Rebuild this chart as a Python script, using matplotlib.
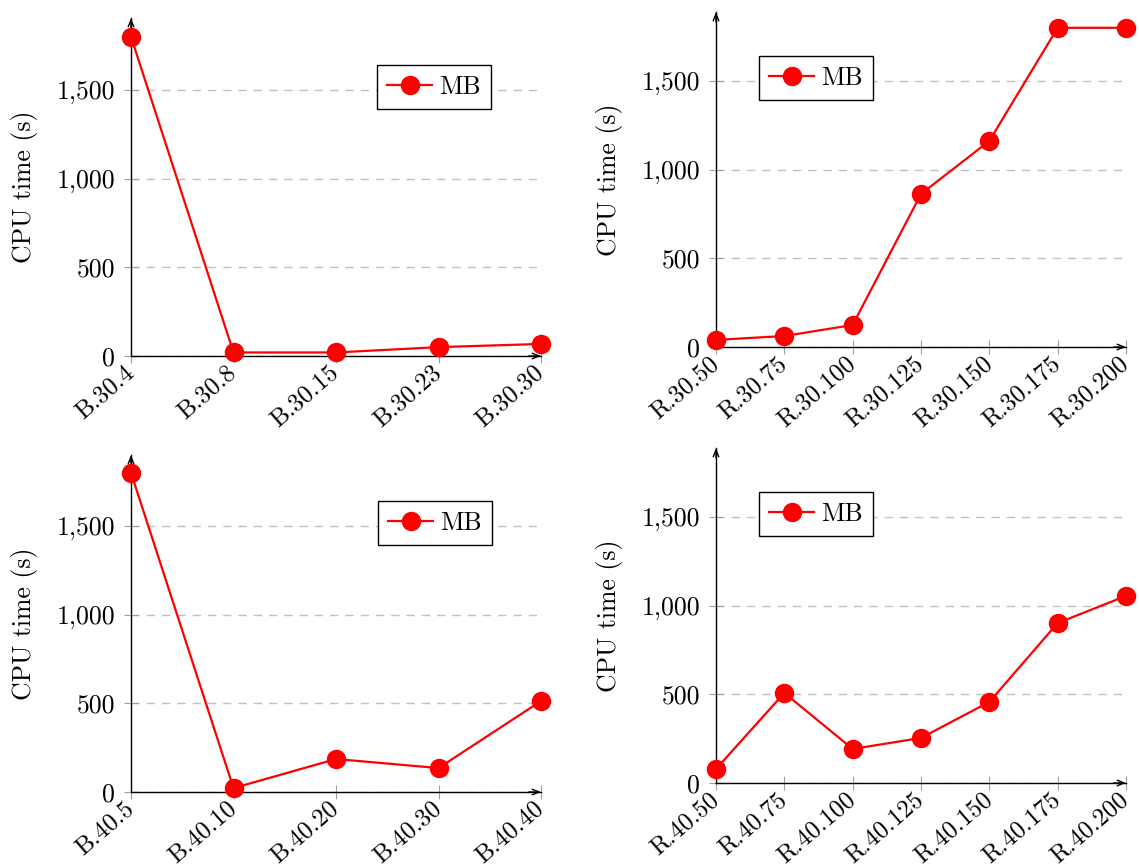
import matplotlib
matplotlib.use("Agg")
import matplotlib.pyplot as plt

plt.rcParams['font.family'] = ['cmr10', 'DejaVu Serif']
plt.rcParams['axes.formatter.use_mathtext'] = True

b30_labels = ['B.30.4', 'B.30.8', 'B.30.15', 'B.30.23', 'B.30.30']
b30_vals = [1800, 20, 20, 50, 68]
r30_labels = ['R.30.50', 'R.30.75', 'R.30.100', 'R.30.125', 'R.30.150', 'R.30.175', 'R.30.200']
r30_vals = [40, 62, 124, 863, 1162, 1800, 1800]
b40_labels = ['B.40.5', 'B.40.10', 'B.40.20', 'B.40.30', 'B.40.40']
b40_vals = [1800, 22, 186, 135, 513]
r40_labels = ['R.40.50', 'R.40.75', 'R.40.100', 'R.40.125', 'R.40.150', 'R.40.175', 'R.40.200']
r40_vals = [79, 508, 192, 254, 457, 902, 1055]

yticks = [0, 500, 1000, 1500]
ytick_labels = ['0', '500', '1,000', '1,500']
series_name = 'MB'
ylabel = 'CPU time (s)'

W, H = 1139, 867
fig = plt.figure(figsize=(W / 100, H / 100), dpi=100)

# (labels, values, left px, right px, y0 px, top px, legend x px, legend y px)
panels = [
    (b30_labels, b30_vals, 131, 541, 356, 18, 377, 65),
    (r30_labels, r30_vals, 716, 1126, 347, 12, 759, 56),
    (b40_labels, b40_vals, 131, 541, 792, 455, 378, 501),
    (r40_labels, r40_vals, 716, 1126, 783, 448, 759, 492),
]

px_per_unit = 266 / 1500.0
FS = 18.5
XFS = 18

for labels, vals, lpx, rpx, y0px, toppx, lgx, lgy in panels:
    ax = fig.add_axes([lpx / W, (H - y0px) / H, (rpx - lpx) / W, (y0px - toppx) / H])
    ymax = (y0px - toppx) / px_per_unit
    xs = list(range(len(labels)))
    ax.plot(xs, vals, color='#ff0000', lw=1.6, marker='o', ms=13,
            markeredgecolor='#ff0000', markerfacecolor='#ff0000',
            clip_on=False, zorder=5, label=series_name)
    ax.set_xlim(0, len(labels) - 1)
    ax.set_ylim(0, ymax)
    ax.set_xticks(xs)
    ax.set_xticklabels(labels, rotation=41, ha='right', va='center',
                       rotation_mode='anchor', fontsize=XFS)
    ax.set_yticks(yticks)
    ax.set_yticklabels(ytick_labels, fontsize=FS)
    ax.set_ylabel(ylabel, fontsize=FS, labelpad=13)
    for s in ['top', 'right']:
        ax.spines[s].set_visible(False)
    for s in ['left', 'bottom']:
        ax.spines[s].set_linewidth(1.0)
        ax.spines[s].set_color('black')
    ax.tick_params(axis='both', direction='inout', length=10, width=0.8, color='#a0a0a0')
    ax.tick_params(axis='x', pad=5)
    ax.tick_params(axis='y', pad=6.5)
    ax.yaxis.grid(True, linestyle=(0, (6, 5)), color='#c0c0c0', lw=1.0)
    ax.set_axisbelow(True)
    # arrowheads
    ax.annotate('', xy=(1.0, 0), xytext=(0.97, 0), xycoords='axes fraction',
                arrowprops=dict(arrowstyle='->,head_length=0.5,head_width=0.2', lw=1.0, color='black',
                                shrinkA=0, shrinkB=0))
    ax.annotate('', xy=(0, 1.0), xytext=(0, 0.97), xycoords='axes fraction',
                arrowprops=dict(arrowstyle='->,head_length=0.5,head_width=0.2', lw=1.0, color='black',
                                shrinkA=0, shrinkB=0))
    leg = ax.legend(loc='upper left', bbox_to_anchor=(lgx / W, 1 - lgy / H),
                    bbox_transform=fig.transFigure, fontsize=FS, frameon=True,
                    fancybox=False, edgecolor='black', framealpha=1, borderpad=0.4,
                    handlelength=1.75, handletextpad=0.25, borderaxespad=0)
    leg.get_frame().set_linewidth(1.0)

fig.savefig('out.png', dpi=100)
